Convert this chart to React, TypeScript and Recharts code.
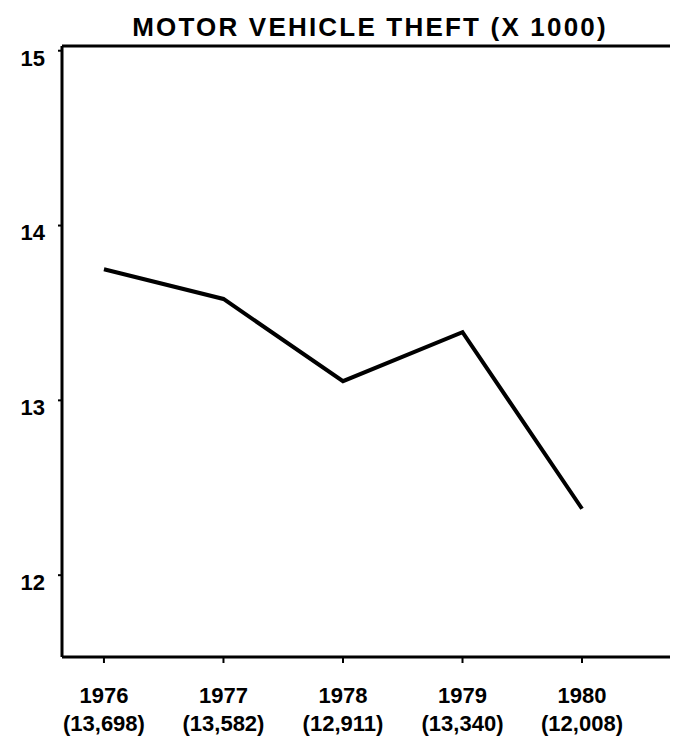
import React from 'react';
import { LineChart, Line, XAxis, YAxis, ReferenceLine } from 'recharts';

// values as drawn in the figure (thousands), plus the printed counts under each year
const years = [1976, 1977, 1978, 1979, 1980];
const thefts = [13.75, 13.58, 13.11, 13.39, 12.38];
const countLabels = ['(13,698)', '(13,582)', '(12,911)', '(13,340)', '(12,008)'];
const yTicks = [12, 13, 14, 15];

const data = years.map((year, i) => ({ year, thefts: thefts[i] }));

const FONT = '"Liberation Sans", Arial, Helvetica, sans-serif';
const Y_TOP = 15.027;
const Y_BOTTOM = 11.532;

const YearTick = (props: any) => {
  const { x, y, payload } = props;
  const i = years.indexOf(payload.value);
  return (
    <g>
      <text x={x} y={y + 40} textAnchor="middle" fontFamily={FONT} fontWeight="bold" fontSize={22} fill="#000">
        {payload.value}
      </text>
      <text x={x} y={y + 68} textAnchor="middle" fontFamily={FONT} fontWeight="bold" fontSize={22} fill="#000">
        {countLabels[i]}
      </text>
    </g>
  );
};

const ValueTick = (props: any) => {
  const { x, y, payload } = props;
  return (
    <text x={x} y={y + 7} dy="0.355em" textAnchor="end" fontFamily={FONT} fontWeight="bold" fontSize={22} fill="#000">
      {payload.value}
    </text>
  );
};

const App: React.FC = () => {
  return (
    <div style={{ position: 'relative', width: 670, height: 733, background: '#fff' }}>
      <div
        style={{
          position: 'absolute',
          left: 362,
          top: 6,
          transform: 'translateX(-50%)',
          whiteSpace: 'nowrap',
          fontFamily: FONT,
          fontWeight: 'bold',
          fontSize: 26,
          lineHeight: '26px',
          letterSpacing: 2.2,
          color: '#000',
        }}
      >
        MOTOR VEHICLE THEFT (X 1000)
      </div>
      <LineChart width={670} height={733} data={data} margin={{ top: 38, right: 0, bottom: 0, left: 0 }}>
        <XAxis
          dataKey="year"
          type="number"
          domain={[1975.649, 1980.803]}
          ticks={years}
          allowDataOverflow
          height={84}
          stroke="#000"
          axisLine={{ stroke: '#000', strokeWidth: 3 }}
          tickLine={{ stroke: '#000', strokeWidth: 2 }}
          tickSize={6}
          tickMargin={0}
          tick={<YearTick />}
        />
        <YAxis
          type="number"
          domain={[Y_BOTTOM, Y_TOP]}
          ticks={yTicks}
          allowDataOverflow
          width={54}
          axisLine={{ stroke: '#000', strokeWidth: 3 }}
          tickLine={{ stroke: '#000', strokeWidth: 2 }}
          tickSize={4}
          tickMargin={13}
          tick={<ValueTick />}
        />
        <ReferenceLine y={Y_TOP} stroke="#000" strokeWidth={3} />
        <Line
          dataKey="thefts"
          type="linear"
          stroke="#000"
          strokeWidth={4}
          dot={false}
          activeDot={false}
          isAnimationActive={false}
        />
      </LineChart>
    </div>
  );
};

export default App;
